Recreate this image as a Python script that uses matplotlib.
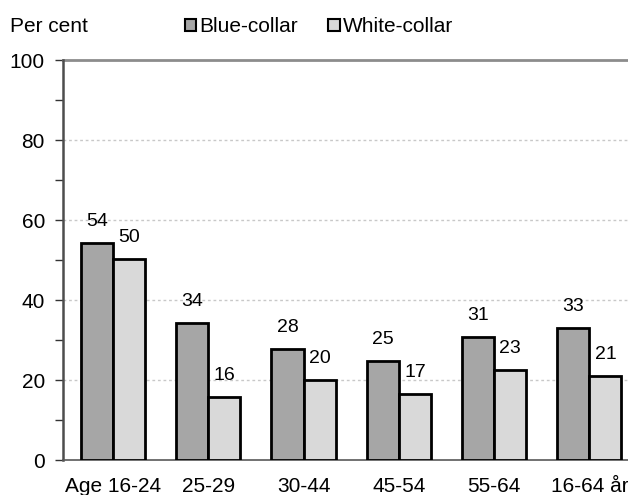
import matplotlib
matplotlib.use("Agg")
import matplotlib.pyplot as plt
from matplotlib.patches import Patch
from matplotlib.ticker import MultipleLocator
import numpy as np

plt.rcParams['font.family'] = ['Liberation Sans', 'DejaVu Sans']

categories = ["Age 16-24", "25-29", "30-44", "45-54", "55-64", "16-64 år"]
blue_collar = [54.3, 34.3, 27.7, 24.7, 30.7, 33.1]
white_collar = [50.2, 15.7, 20.0, 16.4, 22.5, 21.1]
blue_labels = [54, 34, 28, 25, 31, 33]
white_labels = [50, 16, 20, 17, 23, 21]
series_names = ["Blue-collar", "White-collar"]

BLUE_COLOR = "#a6a6a6"
WHITE_COLOR = "#d9d9d9"
EDGE = "#000000"

W, H = 628, 495
fig = plt.figure(figsize=(W / 100, H / 100), dpi=100)
ax = fig.add_axes([63 / W, 1 - 460 / H, (637 - 63) / W, 400 / H])

x = np.arange(len(categories))
bw = 0.337

ax.bar(x - bw / 2, blue_collar, bw, color=BLUE_COLOR, edgecolor=EDGE, linewidth=2, zorder=3)
ax.bar(x + bw / 2, white_collar, bw, color=WHITE_COLOR, edgecolor=EDGE, linewidth=2, zorder=3)

for xi, h, lab in zip(x - bw / 2, blue_collar, blue_labels):
    ax.annotate(str(lab), xy=(xi, h), xytext=(0, 15.5), textcoords='offset points',
                ha='center', va='center', fontsize=14)
for xi, h, lab in zip(x + bw / 2, white_collar, white_labels):
    ax.annotate(str(lab), xy=(xi, h), xytext=(0, 15.5), textcoords='offset points',
                ha='center', va='center', fontsize=14)

ax.set_xlim(-0.525, 5.5)
ax.set_ylim(0, 100)
ax.yaxis.set_major_locator(MultipleLocator(20))
ax.yaxis.set_minor_locator(MultipleLocator(10))

# grid lines
for yv in [20, 40, 60, 80]:
    ax.axhline(yv, color="#c8c8c8", linestyle=(0, (2, 2)), linewidth=1, zorder=1)
ax.axhline(100, color="#8c8c8c", linewidth=2, zorder=2, clip_on=False)

for side in ["top", "right"]:
    ax.spines[side].set_visible(False)
ax.spines["left"].set_color("#4d4d4d")
ax.spines["left"].set_linewidth(1.8)
ax.spines["bottom"].set_color("#595959")
ax.spines["bottom"].set_linewidth(1.2)

ax.set_xticks(x)
ax.set_xticklabels(categories)
ax.tick_params(axis='x', length=0, pad=12, labelsize=15)
ax.tick_params(axis='y', which='both', direction='out', length=6, width=1,
               color="#333333", labelsize=15, pad=7)

fig.text(10 / W, 1 - 27 / H, "Per cent", fontsize=15, va='center', ha='left')

handles = [Patch(facecolor=BLUE_COLOR, edgecolor=EDGE, linewidth=1.5),
           Patch(facecolor=WHITE_COLOR, edgecolor=EDGE, linewidth=1.5)]
fig.legend(handles, series_names, loc='center left', bbox_to_anchor=(185 / W, 1 - 27 / H),
           ncol=2, frameon=False, fontsize=15, handlelength=0.55, handleheight=0.55,
           handletextpad=0.15, columnspacing=1.45, borderpad=0, borderaxespad=0)

fig.savefig("out.png", dpi=100)
